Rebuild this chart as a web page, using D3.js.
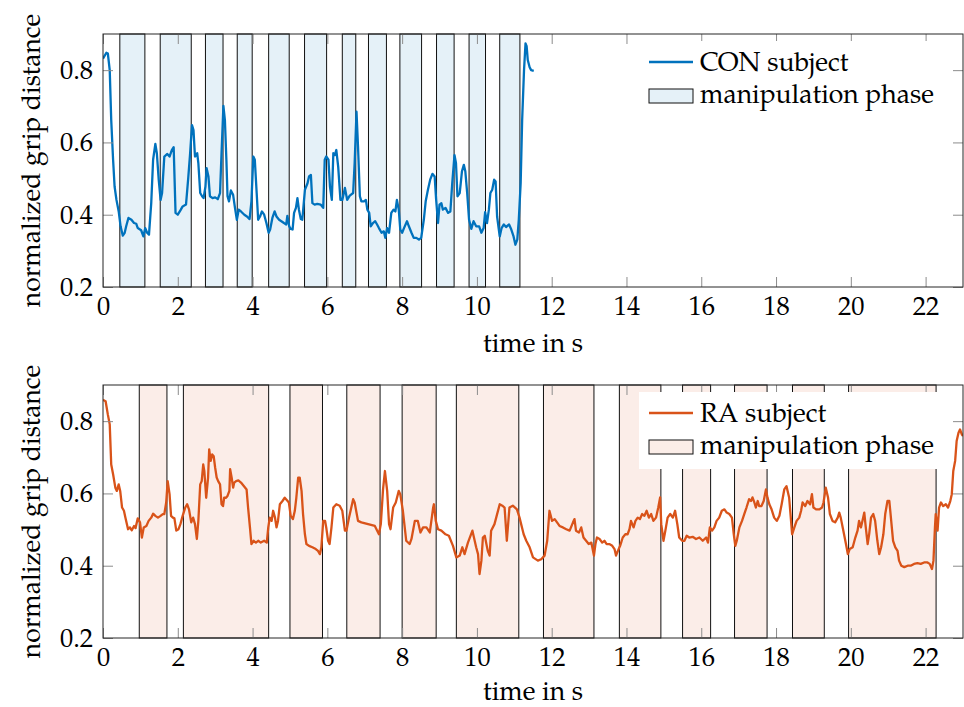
<!DOCTYPE html>
<html lang="en">
<head>
<meta charset="UTF-8">
<title>Normalized grip distance</title>
<style>
  body { margin: 0; background: #fff; }
  svg { display: block; }
  .tick line { stroke: #8c8c8c; }
  .domain { display: none; }
</style>
</head>
<body>
<svg width="964" height="707"></svg>
<script src="https://d3js.org/d3.v7.min.js"></script>
<script>
// axis ticks
const xTicks = [0, 2, 4, 6, 8, 10, 12, 14, 16, 18, 20, 22];
const yTicks = [0.2, 0.4, 0.6, 0.8];

// CON subject (top)
const conTime = [0.00,0.09,0.13,0.18,0.22,0.27,0.31,0.36,0.42,0.47,0.53,0.58,0.62,0.68,0.76,0.83,0.89,0.93,1.02,1.08,
  1.13,1.18,1.23,1.29,1.34,1.40,1.44,1.49,1.54,1.58,1.64,1.72,1.78,1.84,1.89,1.94,2.00,2.07,2.13,2.22,
  2.28,2.33,2.38,2.42,2.46,2.52,2.55,2.60,2.65,2.69,2.74,2.77,2.82,2.86,2.93,3.00,3.07,3.13,3.17,3.22,
  3.26,3.30,3.33,3.37,3.42,3.48,3.53,3.58,3.63,3.69,3.78,3.85,3.92,3.97,4.02,4.06,4.11,4.15,4.20,4.25,
  4.31,4.37,4.43,4.47,4.53,4.59,4.64,4.71,4.77,4.84,4.90,4.93,4.98,5.02,5.07,5.11,5.16,5.20,5.24,5.29,
  5.33,5.40,5.47,5.51,5.56,5.60,5.66,5.73,5.82,5.89,5.93,5.97,6.03,6.07,6.12,6.16,6.20,6.24,6.29,6.35,
  6.40,6.47,6.53,6.60,6.69,6.73,6.78,6.82,6.87,6.91,6.98,7.03,7.07,7.12,7.16,7.22,7.28,7.33,7.38,7.45,
  7.51,7.55,7.60,7.65,7.71,7.77,7.82,7.86,7.91,7.95,8.00,8.05,8.13,8.18,8.25,8.31,8.38,8.45,8.51,8.58,
  8.63,8.69,8.75,8.81,8.87,8.91,8.96,9.00,9.05,9.09,9.16,9.23,9.29,9.34,9.40,9.44,9.48,9.54,9.60,9.65,
  9.69,9.74,9.79,9.85,9.91,9.98,10.06,10.12,10.18,10.22,10.27,10.32,10.36,10.41,10.46,10.50,10.54,10.61,10.66,10.72,
  10.78,10.86,10.92,10.98,11.03,11.08,11.12,11.17,11.21,11.26,11.30,11.33,11.36,11.41,11.45,11.52];
const conGrip = [0.832,0.848,0.846,0.800,0.662,0.552,0.478,0.441,0.409,0.368,0.342,0.350,0.368,0.391,0.386,0.377,0.375,0.363,0.357,0.340,
  0.363,0.350,0.345,0.432,0.552,0.596,0.570,0.497,0.441,0.460,0.561,0.568,0.561,0.579,0.587,0.405,0.400,0.412,0.423,0.428,
  0.502,0.570,0.648,0.634,0.561,0.570,0.543,0.460,0.451,0.446,0.478,0.529,0.506,0.451,0.446,0.448,0.443,0.460,0.570,0.701,
  0.662,0.552,0.451,0.437,0.467,0.455,0.419,0.386,0.414,0.409,0.400,0.395,0.388,0.437,0.561,0.552,0.460,0.386,0.395,0.409,
  0.400,0.377,0.350,0.359,0.391,0.409,0.395,0.386,0.382,0.377,0.373,0.397,0.368,0.361,0.359,0.405,0.419,0.446,0.414,0.388,
  0.386,0.469,0.487,0.506,0.510,0.432,0.428,0.430,0.428,0.419,0.552,0.561,0.552,0.478,0.441,0.570,0.565,0.579,0.533,0.441,
  0.441,0.474,0.441,0.453,0.460,0.543,0.685,0.589,0.451,0.437,0.437,0.441,0.414,0.405,0.368,0.377,0.382,0.373,0.363,0.350,
  0.354,0.336,0.363,0.350,0.405,0.414,0.409,0.441,0.414,0.359,0.350,0.363,0.382,0.368,0.350,0.336,0.336,0.331,0.336,0.386,
  0.437,0.469,0.497,0.513,0.506,0.441,0.377,0.428,0.432,0.414,0.419,0.405,0.409,0.487,0.565,0.543,0.451,0.460,0.520,0.538,
  0.520,0.460,0.386,0.361,0.382,0.368,0.368,0.350,0.363,0.407,0.377,0.414,0.460,0.469,0.497,0.492,0.395,0.340,0.363,0.373,
  0.366,0.373,0.359,0.340,0.317,0.331,0.386,0.487,0.662,0.800,0.874,0.866,0.828,0.808,0.800,0.798];
const conPhaseStart = [0.45, 1.53, 2.74, 3.59, 4.43, 5.39, 6.40, 7.10, 7.94, 8.92, 9.79, 10.61];
const conPhaseEnd   = [1.12, 2.36, 3.21, 3.99, 4.98, 5.98, 6.76, 7.58, 8.52, 9.39, 10.23, 11.15];

// RA subject (bottom)
const raTime = [0.00,0.03,0.07,0.13,0.18,0.22,0.27,0.33,0.37,0.42,0.46,0.51,0.56,0.60,0.67,0.72,0.77,0.83,0.87,0.93,
  0.99,1.04,1.09,1.16,1.22,1.29,1.34,1.40,1.47,1.54,1.60,1.64,1.69,1.73,1.78,1.82,1.87,1.91,1.96,2.02,
  2.07,2.13,2.20,2.25,2.30,2.36,2.41,2.46,2.51,2.55,2.60,2.64,2.68,2.71,2.76,2.81,2.84,2.88,2.92,2.96,
  3.00,3.04,3.08,3.13,3.17,3.21,3.24,3.29,3.33,3.38,3.40,3.44,3.48,3.51,3.56,3.62,3.69,3.76,3.84,3.88,
  3.93,3.97,4.03,4.09,4.15,4.22,4.31,4.38,4.42,4.46,4.51,4.55,4.60,4.64,4.68,4.73,4.80,4.86,4.92,4.97,
  5.02,5.08,5.13,5.17,5.22,5.26,5.31,5.35,5.40,5.44,5.51,5.60,5.69,5.75,5.80,5.84,5.89,5.94,5.97,6.02,
  6.06,6.11,6.16,6.24,6.33,6.40,6.47,6.51,6.58,6.69,6.73,6.82,6.91,7.09,7.27,7.38,7.43,7.49,7.54,7.60,
  7.65,7.69,7.76,7.83,7.91,7.95,8.02,8.11,8.20,8.25,8.34,8.42,8.49,8.56,8.65,8.74,8.83,8.85,8.90,8.96,
  9.05,9.16,9.25,9.36,9.45,9.54,9.61,9.67,9.76,9.88,9.98,10.03,10.07,10.12,10.16,10.21,10.29,10.34,10.38,10.47,
  10.61,10.68,10.74,10.80,10.87,10.96,11.07,11.14,11.25,11.32,11.41,11.50,11.63,11.72,11.81,11.88,11.94,12.01,12.08,12.21,
  12.30,12.39,12.48,12.57,12.61,12.65,12.73,12.79,12.85,12.92,12.99,13.06,13.13,13.17,13.21,13.28,13.35,13.41,13.47,13.54,
  13.62,13.68,13.72,13.77,13.83,13.90,13.97,14.03,14.08,14.12,14.19,14.24,14.30,14.36,14.42,14.48,14.54,14.60,14.66,14.72,
  14.79,14.85,14.90,14.93,14.99,15.04,15.10,15.17,15.24,15.30,15.36,15.41,15.49,15.55,15.61,15.68,15.77,15.86,15.95,16.04,
  16.13,16.18,16.23,16.29,16.35,16.41,16.48,16.55,16.62,16.68,16.75,16.82,16.87,16.91,16.95,17.02,17.09,17.15,17.21,17.28,
  17.33,17.37,17.42,17.46,17.51,17.55,17.61,17.67,17.73,17.77,17.82,17.88,17.95,18.02,18.09,18.15,18.22,18.28,18.35,18.43,
  18.49,18.55,18.62,18.67,18.71,18.78,18.84,18.91,18.96,19.00,19.07,19.16,19.23,19.27,19.33,19.39,19.44,19.51,19.58,19.65,
  19.69,19.73,19.80,19.87,19.92,19.97,20.05,20.12,20.18,20.22,20.27,20.31,20.36,20.40,20.45,20.49,20.54,20.60,20.65,20.71,
  20.76,20.81,20.87,20.92,20.98,21.03,21.08,21.13,21.19,21.25,21.29,21.35,21.43,21.52,21.60,21.69,21.78,21.87,21.96,22.05,
  22.11,22.17,22.21,22.25,22.27,22.32,22.36,22.41,22.47,22.54,22.60,22.66,22.70,22.74,22.79,22.83,22.88,22.92,22.97,23.00];
const raGrip = [0.860,0.857,0.855,0.818,0.791,0.680,0.653,0.616,0.607,0.625,0.607,0.561,0.552,0.533,0.501,0.506,0.498,0.510,0.504,0.531,
  0.520,0.478,0.506,0.510,0.524,0.533,0.544,0.538,0.533,0.538,0.543,0.543,0.575,0.634,0.598,0.538,0.533,0.531,0.497,0.501,
  0.515,0.538,0.561,0.570,0.556,0.520,0.533,0.515,0.474,0.524,0.625,0.634,0.680,0.662,0.588,0.644,0.722,0.690,0.708,0.703,
  0.671,0.644,0.634,0.625,0.570,0.565,0.588,0.588,0.593,0.607,0.667,0.644,0.616,0.630,0.634,0.636,0.630,0.621,0.611,0.561,
  0.506,0.460,0.469,0.464,0.469,0.464,0.469,0.464,0.506,0.533,0.524,0.552,0.533,0.506,0.524,0.570,0.579,0.588,0.581,0.575,
  0.538,0.529,0.552,0.588,0.644,0.644,0.607,0.543,0.487,0.460,0.455,0.451,0.446,0.441,0.432,0.451,0.524,0.524,0.506,0.469,
  0.460,0.506,0.561,0.570,0.566,0.552,0.497,0.497,0.533,0.584,0.575,0.524,0.520,0.515,0.510,0.487,0.515,0.612,0.662,0.607,
  0.515,0.501,0.561,0.575,0.607,0.598,0.552,0.469,0.460,0.474,0.524,0.524,0.492,0.506,0.506,0.492,0.561,0.570,0.524,0.501,
  0.497,0.487,0.483,0.455,0.423,0.428,0.451,0.432,0.464,0.497,0.451,0.432,0.377,0.414,0.478,0.483,0.441,0.428,0.497,0.515,
  0.570,0.566,0.561,0.469,0.561,0.566,0.556,0.533,0.487,0.469,0.451,0.423,0.414,0.418,0.428,0.469,0.552,0.524,0.529,0.510,
  0.506,0.501,0.497,0.520,0.529,0.497,0.492,0.506,0.478,0.469,0.460,0.464,0.428,0.460,0.478,0.474,0.464,0.469,0.460,0.460,
  0.455,0.446,0.428,0.441,0.455,0.478,0.487,0.487,0.501,0.524,0.506,0.524,0.533,0.529,0.543,0.538,0.552,0.533,0.543,0.524,
  0.533,0.561,0.589,0.515,0.469,0.497,0.533,0.543,0.533,0.552,0.515,0.478,0.469,0.469,0.483,0.478,0.480,0.474,0.478,0.469,
  0.478,0.464,0.506,0.497,0.506,0.524,0.533,0.552,0.556,0.547,0.543,0.533,0.487,0.455,0.469,0.506,0.524,0.543,0.561,0.584,
  0.579,0.589,0.575,0.561,0.579,0.565,0.565,0.579,0.611,0.589,0.570,0.556,0.533,0.524,0.538,0.570,0.611,0.620,0.589,0.487,
  0.506,0.524,0.533,0.552,0.575,0.565,0.579,0.570,0.598,0.561,0.556,0.556,0.561,0.575,0.616,0.589,0.543,0.524,0.520,0.533,
  0.547,0.533,0.497,0.460,0.432,0.446,0.451,0.478,0.497,0.524,0.506,0.524,0.547,0.506,0.460,0.487,0.533,0.543,0.524,0.469,
  0.432,0.451,0.487,0.543,0.579,0.579,0.524,0.469,0.451,0.441,0.414,0.400,0.396,0.400,0.400,0.405,0.407,0.405,0.409,0.409,
  0.405,0.391,0.414,0.506,0.543,0.497,0.561,0.575,0.565,0.570,0.561,0.579,0.598,0.662,0.690,0.745,0.768,0.777,0.763,0.759];
const raPhaseStart = [0.97, 2.15, 5.00, 6.52, 8.00, 9.45, 11.78, 13.81, 15.50, 16.89, 18.44, 19.94];
const raPhaseEnd   = [1.71, 4.43, 5.87, 7.41, 8.91, 11.12, 13.13, 14.92, 16.25, 17.76, 19.29, 22.28];

const svg = d3.select("svg");
const left = 103, width = 860, height = 253;
const font = "'TeX Gyre Pagella'", fontSize = "26.5px";

const x = d3.scaleLinear().domain([0, 23]).range([0, width]);
const y = d3.scaleLinear().domain([0.2, 0.9]).range([height, 0]);

function setFont(sel) {
    sel.style("font-family", font).style("font-size", fontSize).attr("fill", "#000");
}

function drawPanel(top, id, times, grips, starts, ends, color, name, labelGap) {
    const g = svg.append("g").attr("transform", "translate(" + left + "," + top + ")");

    g.append("clipPath").attr("id", id)
        .append("rect").attr("width", width).attr("height", height);

    const phases = d3.zip(starts, ends);
    g.append("g").selectAll("rect")
        .data(phases)
        .enter().append("rect")
        .attr("x", function(d) { return x(d[0]); })
        .attr("width", function(d) { return x(d[1]) - x(d[0]); })
        .attr("y", 0)
        .attr("height", height)
        .attr("fill", color)
        .attr("fill-opacity", 0.1)
        .attr("stroke", "#111")
        .attr("stroke-width", 1);

    const line = d3.line()
        .x(function(d) { return x(d[0]); })
        .y(function(d) { return y(d[1]); });
    g.append("path")
        .datum(d3.zip(times, grips))
        .attr("clip-path", "url(#" + id + ")")
        .attr("fill", "none")
        .attr("stroke", color)
        .attr("stroke-width", 2.3)
        .attr("stroke-linejoin", "round")
        .attr("d", line);

    // axes, ticks pointing inward
    g.append("g").attr("transform", "translate(0," + height + ")")
        .call(d3.axisBottom(x).tickValues(xTicks).tickSizeInner(-10).tickSizeOuter(0).tickPadding(9.5))
        .call(function(a) { setFont(a.selectAll("text")); });
    g.append("g")
        .call(d3.axisTop(x).tickValues(xTicks).tickSizeInner(-10).tickSizeOuter(0).tickFormat(""));
    g.append("g")
        .call(d3.axisLeft(y).tickValues(yTicks).tickSizeInner(-10).tickSizeOuter(0).tickPadding(10).tickFormat(d3.format(".1f")))
        .call(function(a) { setFont(a.selectAll("text")); });
    g.append("g").attr("transform", "translate(" + width + ",0)")
        .call(d3.axisRight(y).tickValues(yTicks).tickSizeInner(-10).tickSizeOuter(0).tickFormat(""));

    g.append("rect")
        .attr("width", width).attr("height", height)
        .attr("fill", "none").attr("stroke", "#262626").attr("stroke-width", 1);

    g.append("text")
        .attr("x", width / 2).attr("y", height + labelGap)
        .attr("text-anchor", "middle")
        .call(setFont)
        .text("time in s");
    g.append("text")
        .attr("transform", "translate(-63," + height / 2 + ") rotate(-90)")
        .attr("text-anchor", "middle")
        .call(setFont)
        .text("normalized grip distance");

    // legend
    const lg = g.append("g").attr("transform", "translate(536,7)");
    lg.append("rect").attr("width", 298).attr("height", 77).attr("fill", "#fff");
    lg.append("line").attr("x1", 10).attr("x2", 54).attr("y1", 21).attr("y2", 21)
        .attr("stroke", color).attr("stroke-width", 2.3);
    lg.append("rect").attr("x", 10).attr("y", 48).attr("width", 44).attr("height", 14)
        .attr("fill", color).attr("fill-opacity", 0.1).attr("stroke", "#111");
    lg.append("text").attr("x", 61).attr("y", 29.5).call(setFont).text(name);
    lg.append("text").attr("x", 61).attr("y", 62).call(setFont).text("manipulation phase");
}

drawPanel(34, "clipTop", conTime, conGrip, conPhaseStart, conPhaseEnd, "#0072BD", "CON subject", 65);
drawPanel(385, "clipBottom", raTime, raGrip, raPhaseStart, raPhaseEnd, "#D95319", "RA subject", 62);
</script>
</body>
</html>
